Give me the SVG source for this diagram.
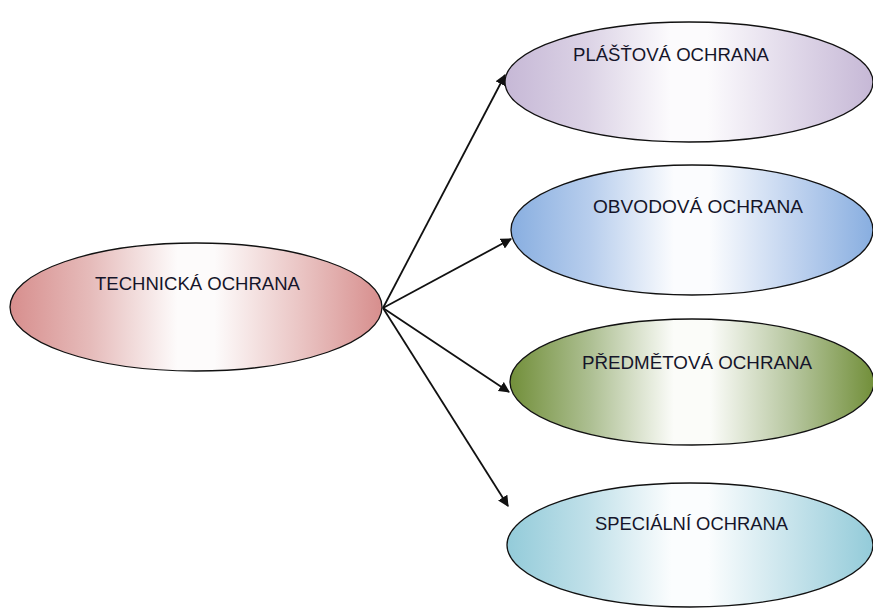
<svg xmlns="http://www.w3.org/2000/svg" width="873" height="608" viewBox="0 0 873 608">
<style>
.n{stroke:#111;stroke-width:1.3}
.t{font-family:"Liberation Sans",Arial,sans-serif;font-size:17.5px;fill:#15152a}
.c{stroke:#111;stroke-width:1.8;fill:none;marker-end:url(#ah)}
</style>
<defs>
<marker id="ah" viewBox="0 0 10 10" refX="9" refY="5" markerWidth="11" markerHeight="11" markerUnits="userSpaceOnUse" orient="auto">
<path d="M0,0 L10,5 L0,10 z" fill="#111"/>
</marker>
<linearGradient id="gR" x1="0" x2="1" y1="0" y2="0">
<stop offset="0" stop-color="#d78e8d"/><stop offset="0.22" stop-color="#e6bcbb"/><stop offset="0.45" stop-color="#fdfbfb"/><stop offset="0.55" stop-color="#fdfbfb"/><stop offset="0.78" stop-color="#eac5c4"/><stop offset="1" stop-color="#d78e8d"/>
</linearGradient>
<linearGradient id="gP" x1="0" x2="1" y1="0" y2="0">
<stop offset="0" stop-color="#c6b8d6"/><stop offset="0.22" stop-color="#dbd2e5"/><stop offset="0.45" stop-color="#fcfbfd"/><stop offset="0.55" stop-color="#fcfbfd"/><stop offset="0.78" stop-color="#e0d8e9"/><stop offset="1" stop-color="#c6b8d6"/>
</linearGradient>
<linearGradient id="gB" x1="0" x2="1" y1="0" y2="0">
<stop offset="0" stop-color="#88aee0"/><stop offset="0.22" stop-color="#b8ceed"/><stop offset="0.45" stop-color="#fbfcfe"/><stop offset="0.55" stop-color="#fbfcfe"/><stop offset="0.78" stop-color="#c0d3ef"/><stop offset="1" stop-color="#88aee0"/>
</linearGradient>
<linearGradient id="gG" x1="0" x2="1" y1="0" y2="0">
<stop offset="0" stop-color="#728f3a"/><stop offset="0.22" stop-color="#adbf92"/><stop offset="0.45" stop-color="#fbfcf9"/><stop offset="0.55" stop-color="#fbfcf9"/><stop offset="0.78" stop-color="#b5c59d"/><stop offset="1" stop-color="#728f3a"/>
</linearGradient>
<linearGradient id="gC" x1="0" x2="1" y1="0" y2="0">
<stop offset="0" stop-color="#93cbd9"/><stop offset="0.22" stop-color="#c0e0e9"/><stop offset="0.45" stop-color="#fbfdfe"/><stop offset="0.55" stop-color="#fbfdfe"/><stop offset="0.78" stop-color="#c6e3eb"/><stop offset="1" stop-color="#93cbd9"/>
</linearGradient>
</defs>
<g id="connectors">
<line class="c" x1="383" y1="308" x2="505" y2="75"/>
<line class="c" x1="383" y1="308" x2="511" y2="239"/>
<line class="c" x1="383" y1="308" x2="509" y2="392"/>
<line class="c" x1="383" y1="308" x2="508" y2="506"/>
</g>
<g id="technicka">
<ellipse class="n" cx="196" cy="307" rx="186" ry="64" fill="url(#gR)"/>
<text class="t" x="95" y="290" textLength="205" lengthAdjust="spacingAndGlyphs">TECHNICKÁ OCHRANA</text>
</g>
<g id="platova">
<ellipse class="n" cx="689" cy="82" rx="184" ry="60" fill="url(#gP)"/>
<text class="t" x="573" y="61" textLength="196" lengthAdjust="spacingAndGlyphs">PLÁŠŤOVÁ OCHRANA</text>
</g>
<g id="obvodova">
<ellipse class="n" cx="692" cy="230" rx="181" ry="65" fill="url(#gB)"/>
<text class="t" x="593" y="213" textLength="210" lengthAdjust="spacingAndGlyphs">OBVODOVÁ OCHRANA</text>
</g>
<g id="predmetova">
<ellipse class="n" cx="692" cy="382" rx="182" ry="63" fill="url(#gG)"/>
<text class="t" x="582" y="369" textLength="230" lengthAdjust="spacingAndGlyphs">PŘEDMĚTOVÁ OCHRANA</text>
</g>
<g id="specialni">
<ellipse class="n" cx="690" cy="545" rx="183" ry="62" fill="url(#gC)"/>
<text class="t" x="595" y="530" textLength="193" lengthAdjust="spacingAndGlyphs">SPECIÁLNÍ OCHRANA</text>
</g>
</svg>
